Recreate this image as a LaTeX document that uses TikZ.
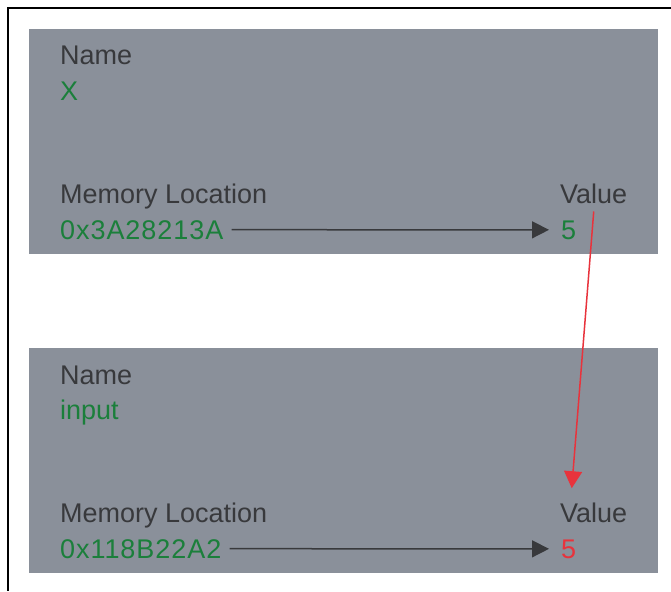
\documentclass[tikz,border=0pt]{standalone}
\usepackage{fontspec}
\setmainfont{Liberation Sans}
\usetikzlibrary{arrows.meta}
\definecolor{boxgray}{HTML}{8A909A}
\definecolor{txtgray}{HTML}{38393C}
\definecolor{valgreen}{HTML}{1B7F3B}
\definecolor{valred}{HTML}{E8333C}

\begin{document}
\begin{tikzpicture}[x=1pt, y=-1pt,
	lbl/.style={anchor=base west, inner sep=0pt, text=txtgray, font=\fontsize{27}{32}\selectfont},
	addr/.style={lbl, text=valgreen, font=\fontsize{27}{32}\selectfont\addfontfeature{LetterSpace=3.5}},
	ptr/.style={-{Triangle[length=17pt, width=17pt]}, line width=1.5pt, color=txtgray},
	copyarrow/.style={-{Triangle[length=17pt, width=18pt]}, line width=1.5pt, color=valred}]
	\useasboundingbox (0,0) rectangle (671,591);
	% frame (top and left only)
	\draw[line width=2.5pt] (671,8) -- (8,8) -- (8,591);
	% the two variables
	\foreach \i/\dy/\nm/\hx/\col in {1/0/X/0x3A28213A/valgreen, 2/319/input/0x118B22A2/valred} {
		\fill[boxgray] (29,29+\dy) rectangle (658,254+\dy);
		\node[lbl] (name\i) at (60,65+\dy) {Name};
		\node[lbl, text=valgreen] (nm\i) at (60,100+\dy) {\nm};
		\node[lbl] (loc\i) at (60,203+\dy) {Memory Location};
		\node[addr] (hex\i) at (60,239+\dy) {\hx};
		\node[lbl] (vlab\i) at (560,203+\dy) {Value};
		\node[lbl, text=\col] (val\i) at (561,239+\dy) {5};
		\draw[ptr, shorten <=8pt, shorten >=12pt] (hex\i.east) -- (val\i.west);
	}
	% value copied into input
	\coordinate (from) at ([yshift=-8pt]vlab1.south);
	\coordinate (to) at ([xshift=-22pt, yshift=14pt]vlab2.north);
	\draw[copyarrow] (from) -- (to);
\end{tikzpicture}
\end{document}
